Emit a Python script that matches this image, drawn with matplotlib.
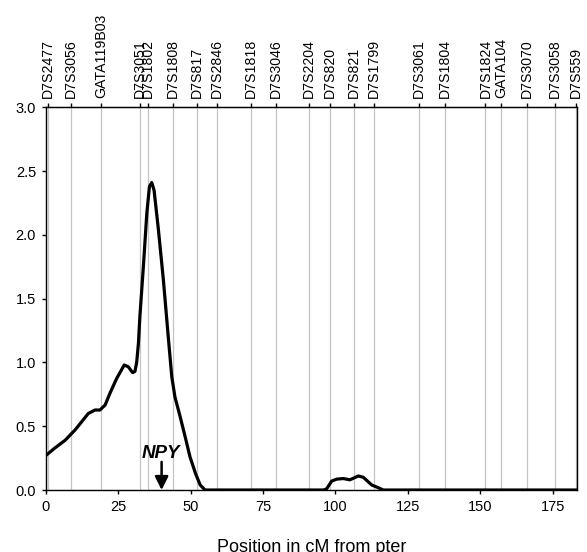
import matplotlib
matplotlib.use('Agg')
import matplotlib.pyplot as plt

plt.rcParams['font.family'] = ['Liberation Sans', 'DejaVu Sans']

# Marcadores ao longo do cromossomo 7 (posição em cM)
marcadores = ['D7S2477', 'D7S3056', 'GATA119B03', 'D7S3051', 'D7S1802',
              'D7S1808', 'D7S817', 'D7S2846', 'D7S1818', 'D7S3046',
              'D7S2204', 'D7S820', 'D7S821', 'D7S1799', 'D7S3061',
              'D7S1804', 'D7S1824', 'GATA104', 'D7S3070', 'D7S3058', 'D7S559']
pos_marcadores = [0.8, 8.7, 19.1, 32.5, 35.4, 43.8, 52.3, 59.1, 70.8, 79.4,
                  91.0, 98.1, 106.3, 113.3, 128.7, 137.9, 151.8, 157.3,
                  166.0, 175.7, 183.0]

# Curva de LOD
posicao = [0, 3.2, 6.7, 10.1, 12.4, 14.7, 17.0, 18.7, 20.5, 22.2, 24.5, 27.1,
           28.5, 30.0, 30.8, 31.4, 32.0, 32.5, 33.7, 34.9, 35.8, 36.6, 37.4,
           38.9, 40.6, 42.3, 43.5, 44.6, 46.4, 48.1, 49.8, 51.7, 53.3, 55.0,
           96.0, 97.0, 98.7, 100.4, 102.7, 105.0, 107.9, 109.6, 112.5, 114.8,
           116.5, 183.5]
lod = [0.27, 0.33, 0.39, 0.47, 0.535, 0.60, 0.627, 0.627, 0.666, 0.76, 0.875,
       0.98, 0.966, 0.92, 0.93, 1.00, 1.15, 1.36, 1.75, 2.17, 2.38, 2.41, 2.35,
       2.04, 1.65, 1.20, 0.89, 0.73, 0.575, 0.42, 0.26, 0.13, 0.04, 0.0,
       0.0, 0.01, 0.07, 0.085, 0.09, 0.08, 0.11, 0.10, 0.04, 0.018,
       0.0, 0.0]

fig = plt.figure(figsize=(5.87, 5.52), dpi=100)
ax = fig.add_axes([0.0779, 0.1123, 0.9056, 0.6933])

for p in pos_marcadores:
    ax.axvline(p, color='#c4c4c4', lw=0.9, zorder=1)

ax.plot(posicao, lod, color='black', lw=2.3, zorder=3,
        solid_capstyle='round', solid_joinstyle='round')

ax.set_xlim(0, 183.5)
ax.set_ylim(0, 3.0)
ax.set_xticks([0, 25, 50, 75, 100, 125, 150, 175])
ax.set_yticks([0.0, 0.5, 1.0, 1.5, 2.0, 2.5, 3.0])
ax.set_yticklabels(['0.0', '0.5', '1.0', '1.5', '2.0', '2.5', '3.0'])
ax.tick_params(direction='out', length=3, width=1, labelsize=10.5, pad=4)
ax.set_xlabel('Position in cM from pter', fontsize=13, labelpad=18)
for s in ax.spines.values():
    s.set_linewidth(1.0)

topo = ax.secondary_xaxis('top')
topo.set_xticks(pos_marcadores)
topo.set_xticklabels(marcadores, rotation=90, fontsize=10.2)
topo.tick_params(direction='out', length=3, width=1, pad=4)

# Seta do gene NPY
ax.annotate('', xy=(40, 0.0), xytext=(40, 0.22),
            arrowprops=dict(arrowstyle='-|>', color='black', lw=1.8,
                            mutation_scale=20, shrinkA=0, shrinkB=0),
            zorder=4)
ax.text(39.7, 0.29, 'NPY', fontsize=13.5, fontweight='bold', fontstyle='italic',
        ha='center', va='center', zorder=4)

fig.savefig('out.png', dpi=100)
